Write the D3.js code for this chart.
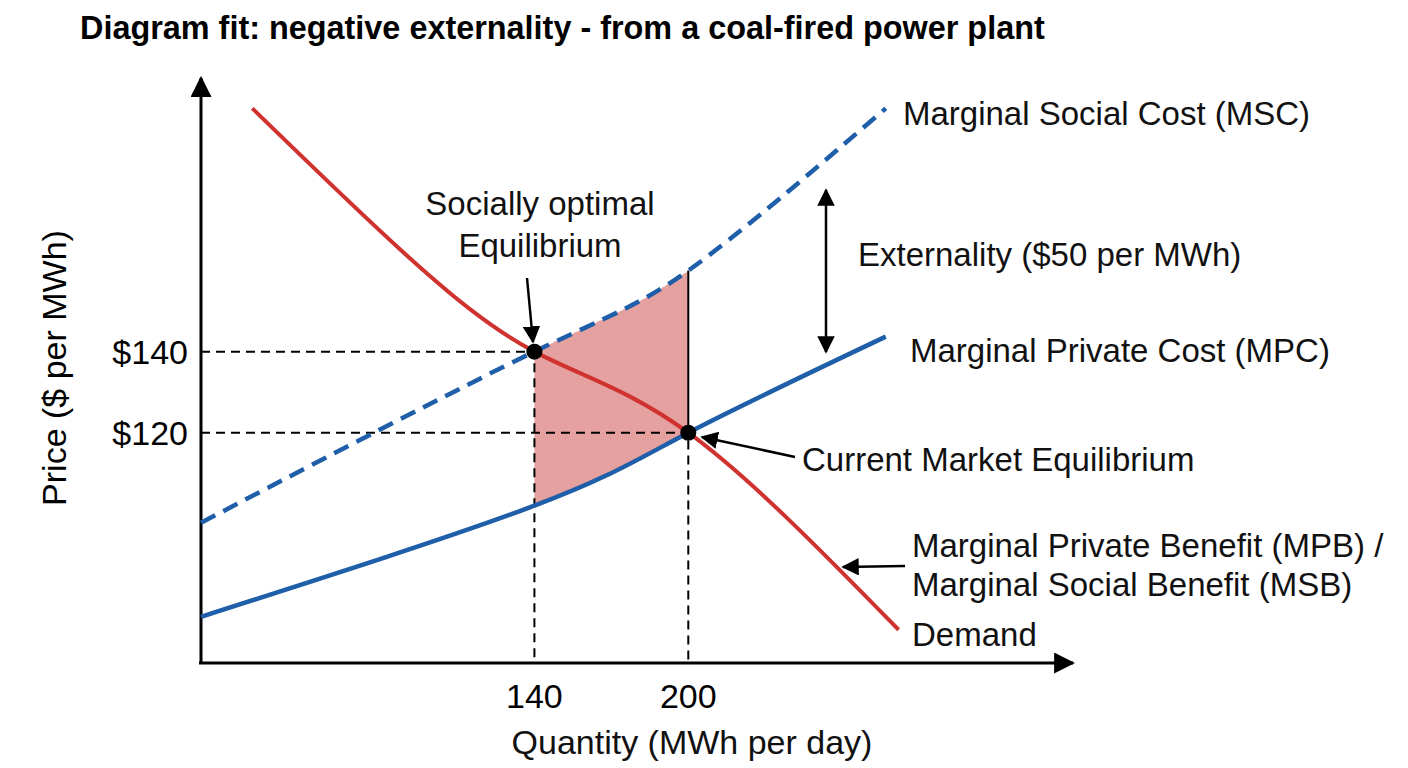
<!DOCTYPE html>
<html><head><meta charset="utf-8">
<script src="https://cdn.jsdelivr.net/npm/d3@7"></script>
<style>body{margin:0;background:#fff}svg{font-family:"Liberation Sans",Arial,sans-serif}</style>
</head><body><svg id="c" width="1408" height="768"></svg>
<script>
const mpc=[[10,74.6],[140,102],[200,120],[277,143.7]];
const msc=[[10,97.8],[140,140],[200,160],[277,200]];
const demand=[[30,200],[88,165],[140,140],[200,120],[282,71.4]];
const eqSocial=[140,140], eqMarket=[200,120];
const xTicks=[140,200], yTicks=[140,120];

const svg=d3.select("#c");
const x=d3.scaleLinear().domain([10,350]).range([201,1073]);
const y=d3.scaleLinear().domain([63.2,207]).range([663,80]);
const line=d3.line().x(d=>x(d[0])).y(d=>y(d[1])).curve(d3.curveNatural);
const defs=svg.append("defs");
defs.append("marker").attr("id","ah").attr("viewBox","0 0 10 10").attr("refX",9).attr("refY",5)
 .attr("markerWidth",7).attr("markerHeight",7).attr("orient","auto-start-reverse")
 .append("path").attr("d","M0,0L10,5L0,10z").attr("fill","#000");

// sample the curve paths for the shaded area
function sampler(arr){const p=svg.append("path").attr("d",line(arr)).attr("fill","none");const el=p.node();const L=el.getTotalLength();const pts=[];for(let i=0;i<=400;i++){const q=el.getPointAtLength(L*i/400);pts.push([q.x,q.y]);}p.remove();return px=>{let b=pts[0];for(const q of pts)if(Math.abs(q[0]-px)<Math.abs(b[0]-px))b=q;return b[1];};}
const sMpc=sampler(mpc), sMsc=sampler(msc);
const qs=d3.range(140,200.1,1);
const area=d3.area().x(q=>x(q)).y0(q=>sMpc(x(q))).y1(q=>sMsc(x(q)));
svg.append("path").attr("d",area(qs)).attr("fill","#e08f8f").attr("opacity",0.85);

// axes
svg.append("line").attr("x1",201).attr("y1",663).attr("x2",201).attr("y2",78).attr("stroke","#000").attr("stroke-width",3).attr("marker-end","url(#ah)");
svg.append("line").attr("x1",199).attr("y1",663).attr("x2",1073).attr("y2",663).attr("stroke","#000").attr("stroke-width",3).attr("marker-end","url(#ah)");

[eqSocial,eqMarket].forEach(p=>{
 svg.append("path").attr("d",`M${x(10)},${y(p[1])}H${x(p[0])}V663`).attr("fill","none").attr("stroke","#000").attr("stroke-width",2).attr("stroke-dasharray","9,6");
});
svg.append("line").attr("x1",x(200)).attr("x2",x(200)).attr("y1",sMsc(x(200))).attr("y2",y(120)).attr("stroke","#000").attr("stroke-width",2);

svg.append("path").attr("d",line(mpc)).attr("fill","none").attr("stroke","#1f5ea8").attr("stroke-width",4.5);
svg.append("path").attr("d",line(msc)).attr("fill","none").attr("stroke","#1f5ea8").attr("stroke-width",4.5).attr("stroke-dasharray","16,9");
svg.append("path").attr("d",line(demand)).attr("fill","none").attr("stroke","#d0332f").attr("stroke-width",4);

[eqSocial,eqMarket].forEach(p=>svg.append("circle").attr("cx",x(p[0])).attr("cy",y(p[1])).attr("r",8).attr("fill","#000"));

yTicks.forEach(v=>svg.append("text").attr("x",188).attr("y",y(v)+12).attr("text-anchor","end").attr("font-size",34).text("$"+v));
xTicks.forEach(v=>svg.append("text").attr("x",x(v)).attr("y",708).attr("text-anchor","middle").attr("font-size",34).text(v));

const T=(tx,ty,s,sz=33,anchor="start")=>svg.append("text").attr("x",tx).attr("y",ty).attr("font-size",sz).attr("text-anchor",anchor).attr("fill","#111").text(s);
svg.append("text").attr("x",80).attr("y",39).attr("font-size",32.4).attr("font-weight","bold").text("Diagram fit: negative externality - from a coal-fired power plant");
T(692,754,"Quantity (MWh per day)",34,"middle");
svg.append("text").attr("transform","translate(66,368) rotate(-90)").attr("text-anchor","middle").attr("font-size",34).text("Price ($ per MWh)");
T(903,125,"Marginal Social Cost (MSC)");
T(858,266,"Externality ($50 per MWh)");
T(910,362,"Marginal Private Cost (MPC)");
T(802,471,"Current Market Equilibrium");
T(912,557,"Marginal Private Benefit (MPB) /");
T(912,596,"Marginal Social Benefit (MSB)");
T(912,646,"Demand");
T(540,215,"Socially optimal",33,"middle");
T(540,257,"Equilibrium",33,"middle");

const arrow=(x1,y1,x2,y2,both)=>{const l=svg.append("line").attr("x1",x1).attr("y1",y1).attr("x2",x2).attr("y2",y2).attr("stroke","#000").attr("stroke-width",2.5).attr("marker-end","url(#ah)");if(both)l.attr("marker-start","url(#ah)");};
arrow(527,278,533,342);
arrow(795,457,702,437);
arrow(905,566,843,567);
arrow(826,190,826,352,true);
</script></body></html>
